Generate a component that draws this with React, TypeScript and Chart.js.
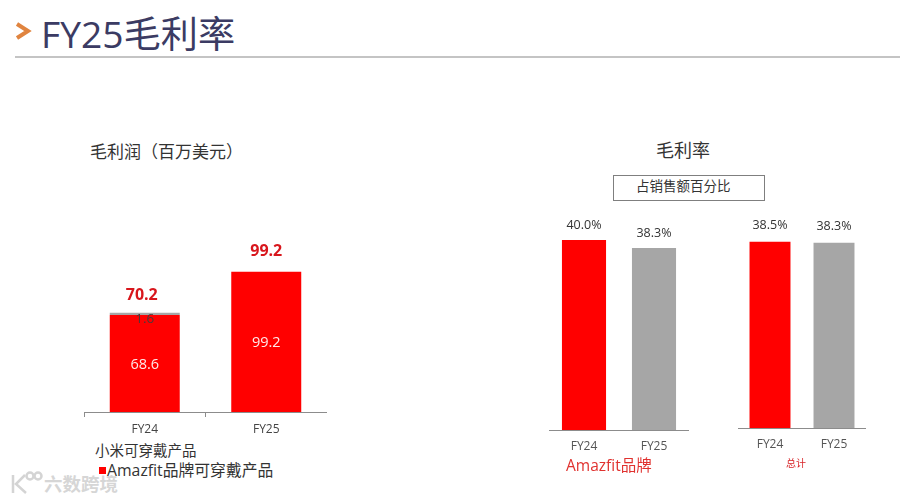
import React, { useEffect, useRef } from "react";
import { Chart, registerables } from "chart.js";

Chart.register(...registerables);

const FONT = '"Open Sans", "Noto Sans CJK SC", sans-serif';
const RED = "#ff0000";
const GREY = "#a6a6a6";

const categories = ["FY24", "FY25"];
const amazfitProfit = [68.6, 99.2];
const xiaomiProfit = [1.6, 0];
const profitTotals = [70.2, 99.2];
const amazfitMargin = [40.0, 38.3];
const totalMargin = [38.5, 38.3];
const marginColors = [RED, GREY];

type Box = { left: number; top: number; width: number; height: number };

function xAxis(height: number, tickColor: string, ticks: boolean) {
  return {
    offset: true,
    afterFit: (s: any) => { s.height = height; },
    border: { display: true, color: "#8c8c8c", width: 1 },
    grid: { display: ticks, drawOnChartArea: false, drawTicks: ticks, tickLength: 5, color: "#8c8c8c", offset: true },
    ticks: { color: tickColor, font: { family: FONT, size: 12 }, padding: ticks ? 5 : 9, maxRotation: 0 },
  };
}

const stackLabels = {
  id: "stackLabels",
  afterDatasetsDraw(chart: any) {
    const { ctx } = chart;
    const lower = chart.getDatasetMeta(0).data;
    const upper = chart.getDatasetMeta(1).data;
    ctx.save();
    ctx.textAlign = "center";
    ctx.textBaseline = "middle";
    categories.forEach((_, i) => {
      ctx.font = `14.5px ${FONT}`;
      ctx.fillStyle = "#ffe9e9";
      ctx.fillText(amazfitProfit[i].toFixed(1), lower[i].x, (lower[i].y + lower[i].base) / 2 + 1);
      const stacked = xiaomiProfit[i] > 0;
      if (stacked) {
        ctx.font = `13.5px ${FONT}`;
        ctx.fillStyle = "#4a3a3a";
        ctx.fillText(xiaomiProfit[i].toFixed(1), upper[i].x, upper[i].y + 6);
      }
      ctx.font = `bold 16px ${FONT}`;
      ctx.fillStyle = "#d8161c";
      const top = stacked ? upper[i].y : lower[i].y;
      ctx.fillText(profitTotals[i].toFixed(1), lower[i].x - (stacked ? 3 : 0), top - (stacked ? 17 : 20));
    });
    ctx.restore();
  },
};

function percentLabels(gap: number) {
  return {
    id: "percentLabels",
    afterDatasetsDraw(chart: any) {
      const { ctx } = chart;
      const values = chart.data.datasets[0].data;
      ctx.save();
      ctx.textAlign = "center";
      ctx.textBaseline = "middle";
      ctx.font = `12.5px ${FONT}`;
      ctx.fillStyle = "#333333";
      chart.getDatasetMeta(0).data.forEach((bar: any, i: number) => {
        ctx.fillText(`${values[i].toFixed(1)}%`, bar.x, bar.y - gap);
      });
      ctx.restore();
    },
  };
}

function useChart(ref: React.RefObject<HTMLCanvasElement | null>, make: (c: HTMLCanvasElement) => Chart) {
  useEffect(() => {
    const chart = make(ref.current as HTMLCanvasElement);
    return () => chart.destroy();
  }, []);
}

function marginChart(canvas: HTMLCanvasElement, values: number[], max: number, barPct: number, axisH: number, gap: number) {
  return new Chart(canvas, {
    type: "bar",
    data: {
      labels: categories,
      datasets: [{ data: values, backgroundColor: marginColors, barPercentage: barPct, categoryPercentage: 1 }],
    },
    options: {
      animation: false,
      responsive: false,
      layout: { padding: 0 },
      plugins: { legend: { display: false }, tooltip: { enabled: false } },
      scales: { x: xAxis(axisH, "#555555", false) as any, y: { display: false, min: 0, max } },
    },
    plugins: [percentLabels(gap)],
  });
}

const canvasStyle = (b: Box): React.CSSProperties => ({ position: "absolute", left: b.left, top: b.top, width: b.width, height: b.height });

function Txt(p: { x: number; y: number; size: number; color?: string; weight?: number; children: React.ReactNode }) {
  return (
    <div style={{ position: "absolute", left: p.x, top: p.y, transform: "translateY(-50%)", fontSize: p.size, color: p.color ?? "#333333", fontWeight: p.weight ?? 400, fontFamily: FONT, whiteSpace: "nowrap", lineHeight: 1 }}>
      {p.children}
    </div>
  );
}

const box1: Box = { left: 84, top: 200, width: 243, height: 240 };
const box2: Box = { left: 549, top: 220, width: 140, height: 240 };
const box3: Box = { left: 738, top: 220, width: 128, height: 240 };

export default function App() {
  const r1 = useRef<HTMLCanvasElement>(null);
  const r2 = useRef<HTMLCanvasElement>(null);
  const r3 = useRef<HTMLCanvasElement>(null);

  useEffect(() => {
    document.body.style.margin = "0";
    document.body.style.background = "#ffffff";
  }, []);

  useChart(r1, (c) =>
    new Chart(c, {
      type: "bar",
      data: {
        labels: categories,
        datasets: [
          { label: "Amazfit品牌可穿戴产品", data: amazfitProfit, backgroundColor: RED, barPercentage: 0.576, categoryPercentage: 1, stack: "s" },
          { label: "小米可穿戴产品", data: xiaomiProfit, backgroundColor: GREY, barPercentage: 0.576, categoryPercentage: 1, stack: "s" },
        ],
      },
      options: {
        animation: false,
        responsive: false,
        layout: { padding: 0 },
        plugins: { legend: { display: false }, tooltip: { enabled: false } },
        scales: { x: { ...(xAxis(28, "#444444", true) as any), stacked: true }, y: { display: false, stacked: true, min: 0, max: 150 } },
      },
      plugins: [stackLabels],
    })
  );
  useChart(r2, (c) => marginChart(c, amazfitMargin, 44.2, 0.63, 30, 15));
  useChart(r3, (c) => marginChart(c, totalMargin, 43, 0.64, 32, 16));

  return (
    <div style={{ position: "relative", width: 900, height: 501, overflow: "hidden", background: "#fff" }}>
      <svg style={{ position: "absolute", left: 0, top: 0 }} width="900" height="501">
        <polyline points="17,24 28,31 17,38" fill="none" stroke="#e0843f" strokeWidth="4" />
        <line x1="15" y1="57" x2="900" y2="57" stroke="#b0b0b0" strokeWidth="1.5" />
        <rect x="613.5" y="175.5" width="151" height="25" fill="none" stroke="#7f7f7f" strokeWidth="1" />
        <rect x="99" y="467" width="7" height="7" fill={RED} />
        <g fill="none" stroke="#d4d4d4" strokeWidth="2.5">
          <path d="M13 475 V493 M25 475 L16 484 L26 493" />
          <circle cx="30" cy="476" r="3.5" />
          <circle cx="38" cy="476" r="3.5" />
        </g>
      </svg>
      <Txt x={41} y={34} size={37.2} color="#3b3b63">FY25毛利率</Txt>
      <Txt x={90} y={151} size={17}>毛利润（百万美元）</Txt>
      <Txt x={656} y={150} size={18}>毛利率</Txt>
      <Txt x={636} y={187} size={13.5}>占销售额百分比</Txt>
      <canvas ref={r1} width={box1.width} height={box1.height} style={canvasStyle(box1)} />
      <canvas ref={r2} width={box2.width} height={box2.height} style={canvasStyle(box2)} />
      <canvas ref={r3} width={box3.width} height={box3.height} style={canvasStyle(box3)} />
      <Txt x={95} y={451} size={14.5}>小米可穿戴产品</Txt>
      <Txt x={107} y={471} size={15.8}>Amazfit品牌可穿戴产品</Txt>
      <Txt x={566} y={466} size={15.5} color="#e0322f">Amazfit品牌</Txt>
      <Txt x={786} y={463} size={10} color="#d8262a">总计</Txt>
      <Txt x={44} y={484} size={18.5} weight={700} color="#d6d6d6">六数跨境</Txt>
    </div>
  );
}
